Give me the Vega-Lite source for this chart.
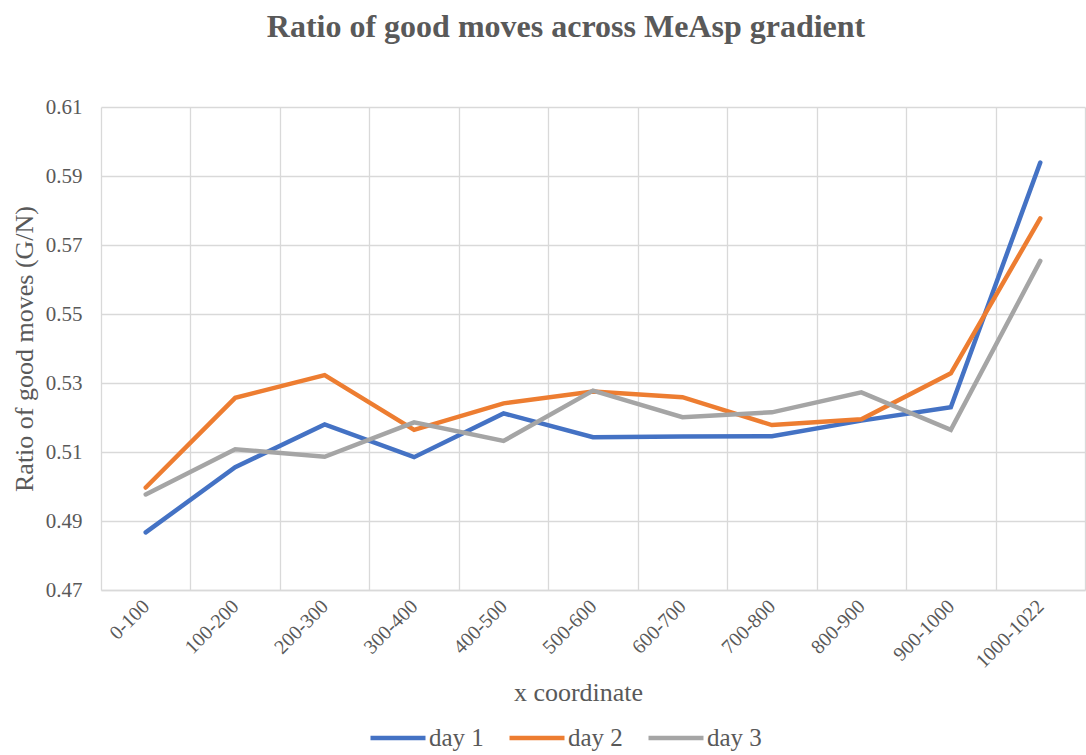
{
  "$schema": "https://vega.github.io/schema/vega-lite/v6.json",
  "autosize": "none",
  "width": 984,
  "height": 483,
  "padding": {"left": 101, "top": 107, "right": 1, "bottom": 165},
  "background": "white",
  "config": {
    "font": "Liberation Serif",
    "view": {"stroke": null}
  },
  "title": {
    "text": "Ratio of good moves across MeAsp gradient",
    "font": "Liberation Serif",
    "fontSize": 32,
    "fontWeight": "bold",
    "color": "#595959",
    "anchor": "middle",
    "dx": -27,
    "offset": 52
  },
  "data": {
    "values": [
      {"x": "0-100", "series": "day 1", "ratio": 0.4867},
      {"x": "100-200", "series": "day 1", "ratio": 0.5056},
      {"x": "200-300", "series": "day 1", "ratio": 0.5180},
      {"x": "300-400", "series": "day 1", "ratio": 0.5085},
      {"x": "400-500", "series": "day 1", "ratio": 0.5212},
      {"x": "500-600", "series": "day 1", "ratio": 0.5143},
      {"x": "600-700", "series": "day 1", "ratio": 0.5145},
      {"x": "700-800", "series": "day 1", "ratio": 0.5146},
      {"x": "800-900", "series": "day 1", "ratio": 0.5191},
      {"x": "900-1000", "series": "day 1", "ratio": 0.5230},
      {"x": "1000-1022", "series": "day 1", "ratio": 0.5939},
      {"x": "0-100", "series": "day 2", "ratio": 0.4997},
      {"x": "100-200", "series": "day 2", "ratio": 0.5257},
      {"x": "200-300", "series": "day 2", "ratio": 0.5323},
      {"x": "300-400", "series": "day 2", "ratio": 0.5164},
      {"x": "400-500", "series": "day 2", "ratio": 0.5241},
      {"x": "500-600", "series": "day 2", "ratio": 0.5275},
      {"x": "600-700", "series": "day 2", "ratio": 0.5259},
      {"x": "700-800", "series": "day 2", "ratio": 0.5178},
      {"x": "800-900", "series": "day 2", "ratio": 0.5195},
      {"x": "900-1000", "series": "day 2", "ratio": 0.5328},
      {"x": "1000-1022", "series": "day 2", "ratio": 0.5777},
      {"x": "0-100", "series": "day 3", "ratio": 0.4977},
      {"x": "100-200", "series": "day 3", "ratio": 0.5108},
      {"x": "200-300", "series": "day 3", "ratio": 0.5086},
      {"x": "300-400", "series": "day 3", "ratio": 0.5186},
      {"x": "400-500", "series": "day 3", "ratio": 0.5132},
      {"x": "500-600", "series": "day 3", "ratio": 0.5278},
      {"x": "600-700", "series": "day 3", "ratio": 0.5201},
      {"x": "700-800", "series": "day 3", "ratio": 0.5215},
      {"x": "800-900", "series": "day 3", "ratio": 0.5273},
      {"x": "900-1000", "series": "day 3", "ratio": 0.5164},
      {"x": "1000-1022", "series": "day 3", "ratio": 0.5654}
    ]
  },
  "mark": {"type": "line", "strokeWidth": 4.5, "strokeCap": "round", "strokeJoin": "miter"},
  "encoding": {
    "x": {
      "field": "x",
      "type": "nominal",
      "bandPosition": 0.5,
      "scale": {
        "type": "band",
        "paddingInner": 0,
        "paddingOuter": 0,
        "domain": ["0-100", "100-200", "200-300", "300-400", "400-500", "500-600", "600-700", "700-800", "800-900", "900-1000", "1000-1022"]
      },
      "axis": {
        "title": "x coordinate",
        "titleFont": "Liberation Serif",
        "titleFontSize": 26,
        "titleFontWeight": "normal",
        "titleColor": "#595959",
        "titleX": 477,
        "titleY": 110,
        "titleBaseline": "alphabetic",
        "labelAngle": -45,
        "labelAlign": "right",
        "labelBaseline": "middle",
        "labelFont": "Liberation Serif",
        "labelFontSize": 20,
        "labelColor": "#595959",
        "labelPadding": 13,
        "ticks": false,
        "tickBand": "extent",
        "grid": true,
        "gridColor": "#d9d9d9",
        "gridWidth": 1.3,
        "domain": true,
        "domainColor": "#d9d9d9",
        "domainWidth": 1.3
      }
    },
    "y": {
      "field": "ratio",
      "type": "quantitative",
      "scale": {"domain": [0.47, 0.61], "nice": false, "zero": false},
      "axis": {
        "title": "Ratio of good moves (G/N)",
        "titleFont": "Liberation Serif",
        "titleFontSize": 26,
        "titleFontWeight": "normal",
        "titleColor": "#595959",
        "titlePadding": 8,
        "values": [0.47, 0.49, 0.51, 0.53, 0.55, 0.57, 0.59, 0.61],
        "format": ".2f",
        "labelFont": "Liberation Serif",
        "labelFontSize": 21,
        "labelColor": "#595959",
        "labelPadding": 19,
        "ticks": false,
        "domain": false,
        "grid": true,
        "gridColor": "#d9d9d9",
        "gridWidth": 1.3
      }
    },
    "color": {
      "field": "series",
      "type": "nominal",
      "scale": {"domain": ["day 1", "day 2", "day 3"], "range": ["#4472C4", "#ED7D31", "#A5A5A5"]},
      "legend": {
        "title": null,
        "orient": "none",
        "legendX": 267,
        "legendY": 601,
        "direction": "horizontal",
        "columns": 3,
        "symbolType": "stroke",
        "symbolSize": 3025,
        "symbolStrokeWidth": 4.5,
        "labelFont": "Liberation Serif",
        "labelFontSize": 25,
        "labelColor": "#595959",
        "labelOffset": 1,
        "columnPadding": 16
      }
    }
  }
}
